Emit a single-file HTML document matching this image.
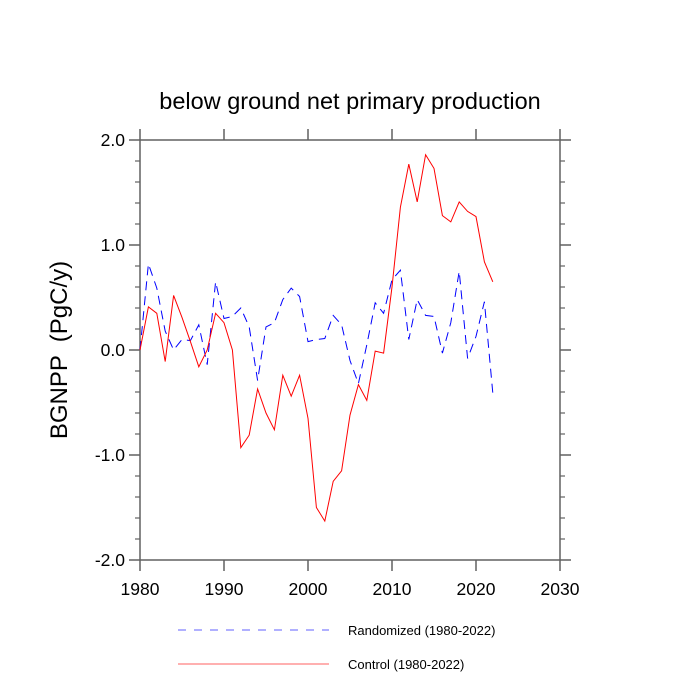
<!DOCTYPE html>
<html><head><meta charset="utf-8"><style>
html,body{margin:0;padding:0;background:#fff;}
svg{display:block;font-family:"Liberation Sans",sans-serif;}
</style></head><body>
<svg id="chart" width="700" height="700" viewBox="0 0 700 700">
<text x="350" y="109" text-anchor="middle" font-size="23.5" fill="#000">below ground net primary production</text>
<text transform="translate(67,350) rotate(-90)" text-anchor="middle" font-size="24" fill="#000" style="white-space:pre">BGNPP  (PgC/y)</text>
<g id="axes"></g>
<g id="series"></g>
<g>
<g>
<line x1="178" y1="630" x2="329" y2="630" stroke="#8080ff" stroke-width="1.2" stroke-dasharray="8,8"/>
<text x="348" y="635" font-size="13" fill="#000">Randomized (1980-2022)</text>
</g>
<g>
<line x1="178" y1="664" x2="329" y2="664" stroke="#ff8080" stroke-width="1.2"/>
<text x="348" y="669" font-size="13" fill="#000">Control (1980-2022)</text>
</g>
</g>
</svg>
<script>
const years = [1980,1981,1982,1983,1984,1985,1986,1987,1988,1989,1990,1991,1992,1993,1994,1995,1996,1997,1998,1999,2000,2001,2002,2003,2004,2005,2006,2007,2008,2009,2010,2011,2012,2013,2014,2015,2016,2017,2018,2019,2020,2021,2022];
const controlValues = [0.0,0.41,0.35,-0.11,0.52,0.31,0.08,-0.16,0.0,0.35,0.26,0.0,-0.93,-0.81,-0.37,-0.6,-0.76,-0.24,-0.44,-0.24,-0.65,-1.5,-1.63,-1.25,-1.15,-0.62,-0.33,-0.48,-0.01,-0.03,0.6,1.36,1.77,1.41,1.86,1.73,1.28,1.22,1.41,1.32,1.27,0.84,0.65];
const randomizedValues = [0.0,0.82,0.59,0.18,0.0,0.1,0.09,0.24,-0.14,0.65,0.3,0.32,0.4,0.22,-0.29,0.22,0.26,0.48,0.59,0.51,0.08,0.1,0.11,0.33,0.24,-0.1,-0.32,0.05,0.45,0.35,0.67,0.76,0.1,0.48,0.33,0.32,-0.03,0.26,0.75,-0.08,0.13,0.46,-0.41];
const xTicks = [1980,1990,2000,2010,2020,2030];
const yTicks = [-2,-1,0,1,2];
const yTickLabels = ["-2.0","-1.0","0.0","1.0","2.0"];

const L=140,R=560,T=140,B=560;
const xMin=1980,xMax=2030,yMin=-2,yMax=2;
const sx=v=>L+(v-xMin)/(xMax-xMin)*(R-L);
const sy=v=>B-(v-yMin)/(yMax-yMin)*(B-T);
const NS="http://www.w3.org/2000/svg";
function mk(tag,attrs,parent){const e=document.createElementNS(NS,tag);for(const k in attrs)e.setAttribute(k,attrs[k]);parent.appendChild(e);return e;}
const axes=document.getElementById('axes');
const ac="#606060";
const frame=mk('rect',{x:L,y:T,width:R-L,height:B-T,fill:'none',stroke:ac,'stroke-width':1.5},axes);


xTicks.forEach(t=>{
  const x=sx(t);
  mk('line',{x1:x,y1:B,x2:x,y2:B+11,stroke:ac,'stroke-width':1.5},axes);
  mk('line',{x1:x,y1:T,x2:x,y2:T-11,stroke:ac,'stroke-width':1.5},axes);
  const tx=mk('text',{x:x,y:B+35,'text-anchor':'middle','font-size':17.5,fill:'#000'},axes);
  tx.textContent=t;
  
  
});
yTicks.forEach((t,i)=>{
  const y=sy(t);
  mk('line',{x1:L,y1:y,x2:L-11,y2:y,stroke:ac,'stroke-width':1.5},axes);
  mk('line',{x1:R,y1:y,x2:R+11,y2:y,stroke:ac,'stroke-width':1.5},axes);
  const tx=mk('text',{x:L-15,y:y+6,'text-anchor':'end','font-size':17.5,fill:'#000'},axes);
  tx.textContent=yTickLabels[i];
  
  
  if(i<yTicks.length-1){for(let k=1;k<5;k++){const yy=sy(t+k*0.2);
    mk('line',{x1:L,y1:yy,x2:L-5,y2:yy,stroke:ac,'stroke-width':1.2},axes);
    mk('line',{x1:R,y1:yy,x2:R+5,y2:yy,stroke:ac,'stroke-width':1.2},axes);}}
});
const ser=document.getElementById('series');
function pts(vals){return vals.map((v,i)=>sx(years[i]).toFixed(1)+','+sy(v).toFixed(1)).join(' ');}
const rl=mk('polyline',{points:pts(randomizedValues),fill:'none',stroke:'#0000ff','stroke-width':1,'stroke-dasharray':'9,6'},ser);


const cl=mk('polyline',{points:pts(controlValues),fill:'none',stroke:'#ff0000','stroke-width':1},ser);


</script>
</body></html>
